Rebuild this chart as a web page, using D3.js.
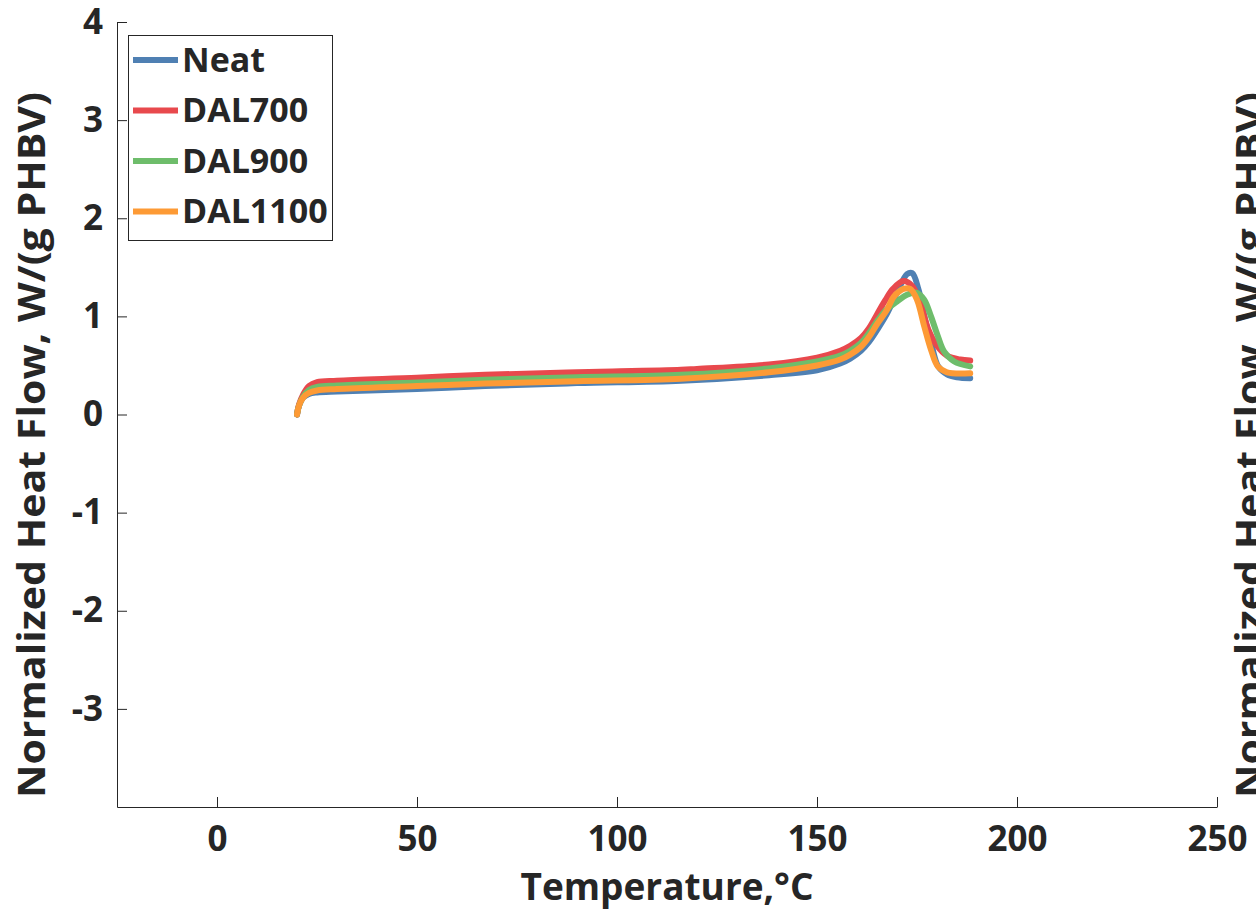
<!DOCTYPE html>
<html>
<head>
<meta charset="utf-8">
<script src="https://cdn.jsdelivr.net/npm/d3@7"></script>
<style>
  body { margin: 0; background: #fff; }
  text { font-family: "Open Sans", "DejaVu Sans", sans-serif; font-weight: bold; fill: #262626; }
</style>
</head>
<body>
<div id="main"></div>
<script>
/*********************************************************
 * Data
 *********************************************************/
const seriesNames = ['Neat', 'DAL700', 'DAL900', 'DAL1100'];
const seriesColors = ['#4f80b3', '#e8494d', '#6ebd6b', '#fd9a35'];

// [temperature degC, heat flow W/(g PHBV)]
const neat = [
  [20, 0], [20.5, 0.09], [21.5, 0.17], [23, 0.21], [25, 0.225], [30, 0.235],
  [50, 0.26], [67, 0.29], [90, 0.32], [116, 0.345], [138, 0.40], [150, 0.45],
  [155.8, 0.52], [158.3, 0.57], [161, 0.65], [163, 0.74], [165, 0.86],
  [167.4, 1.02], [170, 1.24], [172.5, 1.43], [173.8, 1.44], [175.4, 1.27],
  [177, 0.97], [178.7, 0.70], [180.3, 0.49], [182.5, 0.41], [185, 0.38], [188.3, 0.37]
];
const dal700 = [
  [20, 0], [20.5, 0.10], [21.5, 0.20], [23, 0.29], [25, 0.33], [30, 0.345],
  [50, 0.375], [67, 0.405], [90, 0.43], [116, 0.455], [120, 0.465], [138, 0.51],
  [150, 0.58], [155.8, 0.65], [158.3, 0.70], [161, 0.78], [163, 0.88],
  [165, 1.02], [167, 1.16], [169, 1.28], [171.6, 1.36], [173.8, 1.31],
  [175.8, 1.14], [177.8, 0.87], [180, 0.70], [182.5, 0.60], [185.8, 0.56], [188.3, 0.55]
];
const dal900 = [
  [20, 0], [20.5, 0.09], [21.5, 0.18], [23, 0.25], [25, 0.28], [30, 0.295],
  [50, 0.325], [67, 0.355], [90, 0.38], [116, 0.405], [138, 0.47], [150, 0.54],
  [155.8, 0.60], [158.3, 0.65], [161, 0.73], [163, 0.83], [165, 0.95],
  [167.4, 1.07], [170, 1.15], [172.5, 1.22], [175, 1.24], [176.8, 1.17],
  [178.5, 1.0], [180.2, 0.80], [181.8, 0.64], [184.3, 0.54], [188.3, 0.49]
];
const dal1100 = [
  [20, 0], [20.5, 0.09], [21.5, 0.17], [23, 0.22], [25, 0.245], [30, 0.26],
  [50, 0.29], [67, 0.315], [90, 0.34], [116, 0.365], [138, 0.43], [150, 0.50],
  [155.8, 0.56], [158.3, 0.61], [161, 0.69], [163, 0.79], [165, 0.92],
  [167.4, 1.06], [169.2, 1.20], [171.6, 1.28], [173.3, 1.28], [175, 1.17],
  [176.8, 0.90], [178.5, 0.66], [180.2, 0.49], [182.5, 0.43], [188.3, 0.42]
];
const seriesData = [neat, dal700, dal900, dal1100];

const xTicks = [0, 50, 100, 150, 200, 250];
const yTicks = [-3, -2, -1, 0, 1, 2, 3, 4];

/*********************************************************
 * Layout
 *********************************************************/
const svgWidth = 1256;
const svgHeight = 921;
const plot = { l: 117, r: 1217, t: 22, b: 807 };
const yTitle = 'Normalized Heat Flow, W/(g PHBV)';

const svg = d3.select('#main')
  .append('svg')
  .attr('width', svgWidth)
  .attr('height', svgHeight);

const x = d3.scaleLinear().domain([-25, 250]).range([plot.l, plot.r]);
const y = d3.scaleLinear().domain([-4, 4]).range([plot.b, plot.t]);

/*********************************************************
 * Axes (ticks point inward)
 *********************************************************/
const xAxis = d3.axisBottom(x)
  .tickValues(xTicks)
  .tickFormat(d => String(d))
  .tickSizeInner(-10)
  .tickSizeOuter(0)
  .tickPadding(19);

const yAxis = d3.axisLeft(y)
  .tickValues(yTicks)
  .tickFormat(d => String(d))   // plain hyphen, as in the original
  .tickSizeInner(-10)
  .tickSizeOuter(0)
  .tickPadding(14);

const gX = svg.append('g')
  .attr('transform', `translate(0, ${plot.b})`)
  .call(xAxis);

const gY = svg.append('g')
  .attr('transform', `translate(${plot.l}, 0)`)
  .call(yAxis);

[gX, gY].forEach(g => {
  g.selectAll('path, line').attr('stroke', '#262626').attr('stroke-width', 1);
  g.selectAll('text')
    .style('font-family', '"Open Sans", sans-serif')
    .style('font-weight', 'bold')
    .style('font-size', '35px')
    .attr('fill', '#262626');
});

// axis titles
svg.append('text')
  .attr('x', (plot.l + plot.r) / 2)
  .attr('y', 900)
  .attr('text-anchor', 'middle')
  .style('font-size', '37px')
  .text('Temperature,\u00B0C');

svg.append('text')
  .attr('transform', 'translate(45, 445) rotate(-90)')
  .attr('text-anchor', 'middle')
  .attr('textLength', 706)
  .attr('lengthAdjust', 'spacingAndGlyphs')
  .style('font-size', '37px')
  .text(yTitle);

// the second label peeking in at the right edge
svg.append('text')
  .attr('transform', 'translate(1263, 445) rotate(-90)')
  .attr('text-anchor', 'middle')
  .attr('textLength', 706)
  .attr('lengthAdjust', 'spacingAndGlyphs')
  .style('font-size', '37px')
  .text(yTitle);

/*********************************************************
 * Curves
 *********************************************************/
const line = d3.line()
  .x(d => x(d[0]))
  .y(d => y(d[1]))
  .curve(d3.curveCatmullRom.alpha(0.5));

svg.append('g')
  .selectAll('path')
  .data(seriesData)
  .enter().append('path')
  .attr('d', line)
  .attr('fill', 'none')
  .attr('stroke', (d, i) => seriesColors[i])
  .attr('stroke-width', 6)
  .attr('stroke-linejoin', 'round')
  .attr('stroke-linecap', 'round');

/*********************************************************
 * Legend
 *********************************************************/
const legend = svg.append('g').attr('class', 'legend');

legend.append('rect')
  .attr('x', 128.5)
  .attr('y', 35.5)
  .attr('width', 204)
  .attr('height', 205)
  .attr('fill', '#fff')
  .attr('stroke', '#262626')
  .attr('stroke-width', 1);

const rows = legend.selectAll('.row')
  .data(seriesNames)
  .enter().append('g')
  .attr('class', 'row')
  .attr('transform', (d, i) => `translate(0, ${60 + i * 50.5})`);

rows.append('line')
  .attr('x1', 133)
  .attr('x2', 178)
  .attr('stroke', (d, i) => seriesColors[i])
  .attr('stroke-width', 6);

rows.append('text')
  .attr('x', 182)
  .attr('dy', '0.35em')
  .style('font-size', '34px')
  .text(d => d);
</script>
</body>
</html>
